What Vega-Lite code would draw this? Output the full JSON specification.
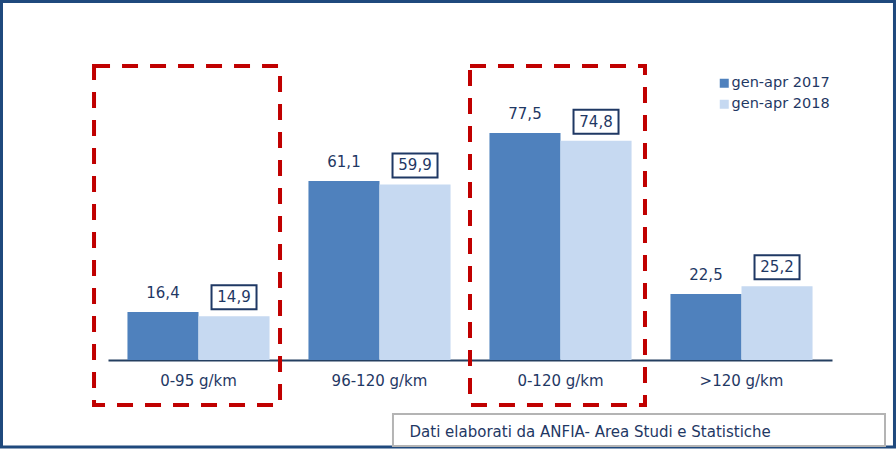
{
  "$schema": "https://vega.github.io/schema/vega-lite/v6.json",
  "width": 724,
  "height": 293,
  "autosize": {"type": "none"},
  "padding": {"left": 108, "top": 67, "right": 64, "bottom": 89},
  "background": "white",
  "config": {"view": {"stroke": null}, "font": "DejaVu Sans"},
  "data": {
    "values": [
      {"cat": "0-95 g/km", "series": "gen-apr 2017", "value": 16.4, "label": "16,4"},
      {"cat": "0-95 g/km", "series": "gen-apr 2018", "value": 14.9, "label": "14,9"},
      {"cat": "96-120 g/km", "series": "gen-apr 2017", "value": 61.1, "label": "61,1"},
      {"cat": "96-120 g/km", "series": "gen-apr 2018", "value": 59.9, "label": "59,9"},
      {"cat": "0-120 g/km", "series": "gen-apr 2017", "value": 77.5, "label": "77,5"},
      {"cat": "0-120 g/km", "series": "gen-apr 2018", "value": 74.8, "label": "74,8"},
      {"cat": ">120 g/km", "series": "gen-apr 2017", "value": 22.5, "label": "22,5"},
      {"cat": ">120 g/km", "series": "gen-apr 2018", "value": 25.2, "label": "25,2"}
    ]
  },
  "layer": [
    {
      "encoding": {
        "x": {
          "field": "cat", "type": "nominal",
          "sort": ["0-95 g/km", "96-120 g/km", "0-120 g/km", ">120 g/km"],
          "scale": {"paddingInner": 0.215, "paddingOuter": 0.1075},
          "axis": {
            "title": null, "ticks": false, "labelAngle": 0,
            "labelFontSize": 15, "labelColor": "#1F3864", "labelFont": "DejaVu Sans",
            "labelPadding": 13, "domainColor": "#243F60", "domainWidth": 2
          }
        },
        "xOffset": {"field": "series", "type": "nominal", "sort": ["gen-apr 2017", "gen-apr 2018"]},
        "y": {"field": "value", "type": "quantitative", "scale": {"domain": [0, 100]}, "axis": null}
      },
      "layer": [
        {
          "mark": {"type": "bar"},
          "encoding": {
            "color": {
              "field": "series", "type": "nominal",
              "scale": {"domain": ["gen-apr 2017", "gen-apr 2018"], "range": ["#4F81BD", "#C6D9F1"]},
              "legend": {
                "orient": "none", "legendX": 609, "legendY": 9, "title": null,
                "symbolType": "square", "symbolSize": 81, "symbolStrokeWidth": 0,
                "labelFontSize": 14.5, "labelColor": "#1F3864", "labelFont": "DejaVu Sans",
                "rowPadding": 6, "labelOffset": 0, "padding": 0
              }
            }
          }
        },
        {
          "mark": {"type": "text", "dy": -19, "fontSize": 15, "color": "#1F3864", "font": "DejaVu Sans", "baseline": "middle"},
          "encoding": {"text": {"field": "label"}}
        },
        {
          "transform": [{"filter": "datum.series == 'gen-apr 2018'"}],
          "mark": {
            "type": "point", "shape": "M-1,-0.533H1V0.533H-1Z", "size": 2025,
            "filled": false, "stroke": "#1F3864", "strokeWidth": 2, "opacity": 1, "yOffset": -19
          }
        }
      ]
    },
    {
      "data": {"values": [{}]},
      "layer": [
        {
          "mark": {"type": "rect", "filled": false, "stroke": "#1F497D", "strokeWidth": 3},
          "encoding": {
            "x": {"datum": -0.1471, "type": "quantitative", "scale": {"domain": [0, 1]}, "axis": null},
            "x2": {"datum": 1.0863},
            "y": {"datum": 122.35, "type": "quantitative", "scale": {"domain": [0, 100]}, "axis": null},
            "y2": {"datum": -29.69}
          }
        },
        {
          "mark": {"type": "rect", "filled": false, "stroke": "#C00000", "strokeWidth": 4, "strokeDash": [16, 12]},
          "encoding": {
            "x": {"datum": -0.0193, "type": "quantitative", "scale": {"domain": [0, 1]}, "axis": null},
            "x2": {"datum": 0.2376},
            "y": {"datum": 100.34, "type": "quantitative", "scale": {"domain": [0, 100]}, "axis": null},
            "y2": {"datum": -15.36}
          }
        },
        {
          "mark": {"type": "rect", "filled": false, "stroke": "#C00000", "strokeWidth": 4, "strokeDash": [16, 12]},
          "encoding": {
            "x": {"datum": 0.5, "type": "quantitative", "scale": {"domain": [0, 1]}, "axis": null},
            "x2": {"datum": 0.7417},
            "y": {"datum": 100.34, "type": "quantitative", "scale": {"domain": [0, 100]}, "axis": null},
            "y2": {"datum": -15.36}
          }
        },
        {
          "mark": {"type": "rect", "filled": false, "stroke": "#B4B4B4", "strokeWidth": 2},
          "encoding": {
            "x": {"datum": 0.3936, "type": "quantitative", "scale": {"domain": [0, 1]}, "axis": null},
            "x2": {"datum": 1.0732},
            "y": {"datum": -18.43, "type": "quantitative", "scale": {"domain": [0, 100]}, "axis": null},
            "y2": {"datum": -29.35}
          }
        },
        {
          "mark": {"type": "text", "align": "left", "baseline": "middle", "fontSize": 15, "color": "#1F3864", "font": "DejaVu Sans"},
          "encoding": {
            "x": {"datum": 0.4165, "type": "quantitative", "scale": {"domain": [0, 1]}, "axis": null},
            "y": {"datum": -24.6, "type": "quantitative", "scale": {"domain": [0, 100]}, "axis": null},
            "text": {"value": "Dati elaborati da ANFIA- Area Studi e Statistiche"}
          }
        }
      ]
    }
  ],
  "resolve": {"scale": {"x": "independent"}}
}
